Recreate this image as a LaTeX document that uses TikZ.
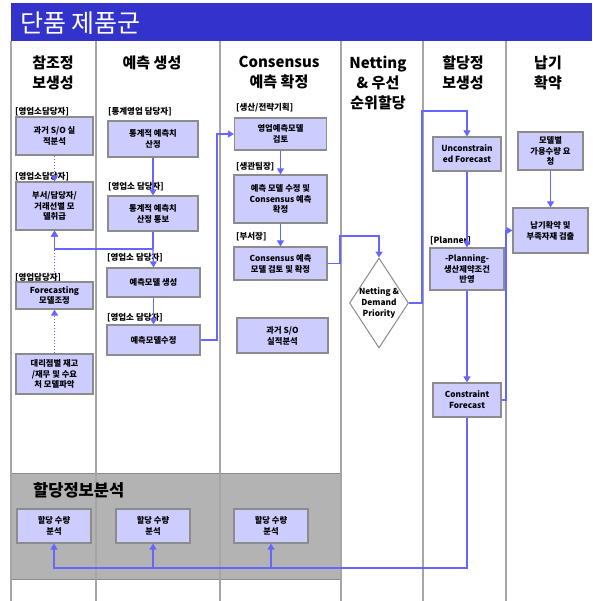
\documentclass[tikz,border=0pt]{standalone}
\usepackage{fontspec}
\setmainfont{Noto Sans CJK KR}
\usetikzlibrary{shapes.geometric,arrows.meta}
\definecolor{hdrblue}{RGB}{51,51,204}
\definecolor{boxfill}{RGB}{204,204,255}
\definecolor{boxline}{RGB}{140,140,140}
\definecolor{flow}{RGB}{102,102,255}
\definecolor{lane}{RGB}{165,165,165}
\definecolor{bandgray}{RGB}{179,179,179}
\begin{document}
\begin{tikzpicture}[x=1pt,y=-1pt,
  box/.style={draw=boxline, line width=1.2pt, fill=boxfill, align=center, inner sep=1pt, font=\bfseries\fontsize{8.3}{10.8}\selectfont},
  tag/.style={anchor=west, inner sep=0pt, font=\bfseries\fontsize{8.5}{10}\selectfont},
  hdr/.style={align=center, inner sep=0pt, font=\bfseries\fontsize{15}{20}\selectfont},
  flowline/.style={draw=flow, line width=1.2pt},
  arr/.style={flowline, -{Triangle[width=7pt,length=6pt]}},
  dotarr/.style={draw=flow, line width=1pt, dotted, -{Triangle[width=7pt,length=6pt]}}]
\useasboundingbox (0,0) rectangle (592,601);
\fill[white] (0,0) rectangle (592,601);
% header band
\fill[hdrblue] (11,3) rectangle (592,41);
\node[anchor=west, text=white, font=\fontsize{25}{25}\selectfont, inner sep=0pt] (title) at (20,23) {단품 제품군};
% bottom gray band
\filldraw[fill=bandgray, draw=boxline, line width=1pt] (11,473) rectangle (341,579);
% lane lines
\foreach \x in {11,96,220,341,423,506} \draw[lane, line width=1.2pt] (\x,41) -- (\x,601);
% column headers
\node[hdr] (h1) at (53,73) {참조정\\보생성};
\node[hdr] (h2) at (152,63) {예측 생성};
\node[hdr] (h3) at (279,73) {Consensus\\예측 확정};
\node[hdr] (h4) at (378,83) {Netting\\\& 우선\\순위할당};
\node[hdr] (h5) at (463,73) {할당정\\보생성};
\node[hdr] (h6) at (548,73) {납기\\확약};
% column 1
\node[tag] (t1a) at (15,112) {[영업소담당자]};
\node[box, minimum width=77, minimum height=38] (c1a) at (54.5,136) {과거 S/O 실\\적분석};
\node[tag] (t1b) at (15,177) {[영업소담당자]};
\node[box, minimum width=77, minimum height=48] (c1b) at (54.5,206) {부서/담당자/\\거래선별 모\\델취급};
\node[tag] (t1c) at (15,278) {[영업담당자]};
\node[box, minimum width=77, minimum height=27] (c1c) at (54.5,295.5) {Forecasting\\모델조정};
\node[box, minimum width=77, minimum height=40] (c1d) at (54.5,374) {대리점별 재고\\/재무 및 수요\\처 모델파악};
% column 2
\node[tag] (t2a) at (108,112) {[통계영업 담당자]};
\node[box, minimum width=90, minimum height=36] (c2a) at (153,139) {통계적 예측치\\산정};
\node[tag] (t2b) at (108,187) {[영업소 담당자]};
\node[box, minimum width=90, minimum height=35] (c2b) at (153,213.5) {통계적 예측치\\산정 통보};
\node[tag] (t2c) at (107,258) {[영업소 담당자]};
\node[box, minimum width=93, minimum height=29] (c2c) at (153.5,282.5) {예측모델 생성};
\node[tag] (t2d) at (107,318) {[영업소 담당자]};
\node[box, minimum width=93, minimum height=30] (c2d) at (153.5,340) {예측모델수정};
% column 3
\node[tag] (t3a) at (236,108) {[생산/전략기획]};
\node[box, minimum width=92, minimum height=32] (c3a) at (280.5,134) {영업예측모델\\검토};
\node[tag] (t3b) at (236,167) {[생관팀장]};
\node[box, minimum width=93, minimum height=48] (c3b) at (280.5,199) {예측 모델 수정 및\\Consensus 예측\\확정};
\node[tag] (t3c) at (236,237) {[부서장]};
\node[box, minimum width=93, minimum height=33] (c3c) at (280.5,263.5) {Consensus 예측\\모델 검토 및 확정};
\node[box, minimum width=91, minimum height=35] (c3d) at (282.5,335.5) {과거 S/O\\실적분석};
% column 4
\node[diamond, draw=boxline, line width=1pt, fill=white, minimum width=59, minimum height=90, inner sep=0pt] (dia) at (379,303) {};
\node[align=center, inner sep=0pt, font=\bfseries\fontsize{8.3}{11}\selectfont] (diatext) at (dia.center) {Netting \&\\Demand\\Priority};
% column 5
\node[box, minimum width=68, minimum height=34] (c5a) at (467,154) {Unconstrain\\ed Forecast};
\node[tag] (t5b) at (430,241) {[Planner]};
\node[box, minimum width=74, minimum height=42] (c5b) at (467,269) {-Planning-\\생산제약조건\\반영};
\node[box, minimum width=68, minimum height=34] (c5c) at (467,400) {Constraint\\Forecast};
% column 6
\node[box, minimum width=65, minimum height=38] (c6a) at (550.5,151) {모델별\\가용수량 요\\청};
\node[box, minimum width=75, minimum height=45] (c6b) at (550.5,230.5) {납기확약 및\\부족자재 검출};
% bottom band
\node[anchor=west, inner sep=0pt, font=\bfseries\fontsize{16.5}{18}\selectfont] (bandtitle) at (33,490) {할당정보분석};
\node[box, minimum width=74, minimum height=34] (b1) at (54,526) {할당 수량\\분석};
\node[box, minimum width=74, minimum height=34] (b2) at (153,526) {할당 수량\\분석};
\node[box, minimum width=74, minimum height=34] (b3) at (271,526) {할당 수량\\분석};
% junction coordinates
\coordinate (j1) at (153,249);
\coordinate (j2) at (153,568);
\coordinate (j3) at (271,568);
% connectors column 1
\draw[dotarr] (c1a.south) -- (c1b.north);
\draw[dotarr] (c1c.north) -- (c1b.south);
\draw[dotarr] (c1d.north) -- (c1c.south);
% column 2
\draw[arr] (c2a.south) -- (c2b.north);
\draw[flowline] (c2b.south) -- (j1);
\draw[arr] (j1) -- (c2c.north);
\draw[arr] (j1) -| (c1b.south);
\draw[arr] (c2c.south) -- (c2d.north);
\draw[arr] (c2d.east) -- (217,340) -- (217,134) -- (c3a.west);
% column 3
\draw[arr] (c3a.south) -- (c3b.north);
\draw[arr] (c3b.south) -- (c3c.north);
\draw[arr] (c3c.east) -- (340,263.5) -- (340,236) -| (dia.north);
% column 4 -> 5
\draw[arr] (dia.east) -- (422,303) -- (422,111) -| (c5a.north);
\draw[arr] (c5a.south) -- (c5b.north);
\draw[arr] (c5b.south) -- (c5c.north);
\draw[arr] (c5c.east) -- (506,400) -- (506,230.5) -- (c6b.west);
\draw[arr] (c6a.south) -- (c6b.north);
% back to bottom band
\draw[arr] (c5c.south) -- (467,568) -- (j2) -- (54,568) -- (b1.south);
\draw[arr] (j2) -- (b2.south);
\draw[arr] (j3) -- (b3.south);
\end{tikzpicture}
\end{document}
